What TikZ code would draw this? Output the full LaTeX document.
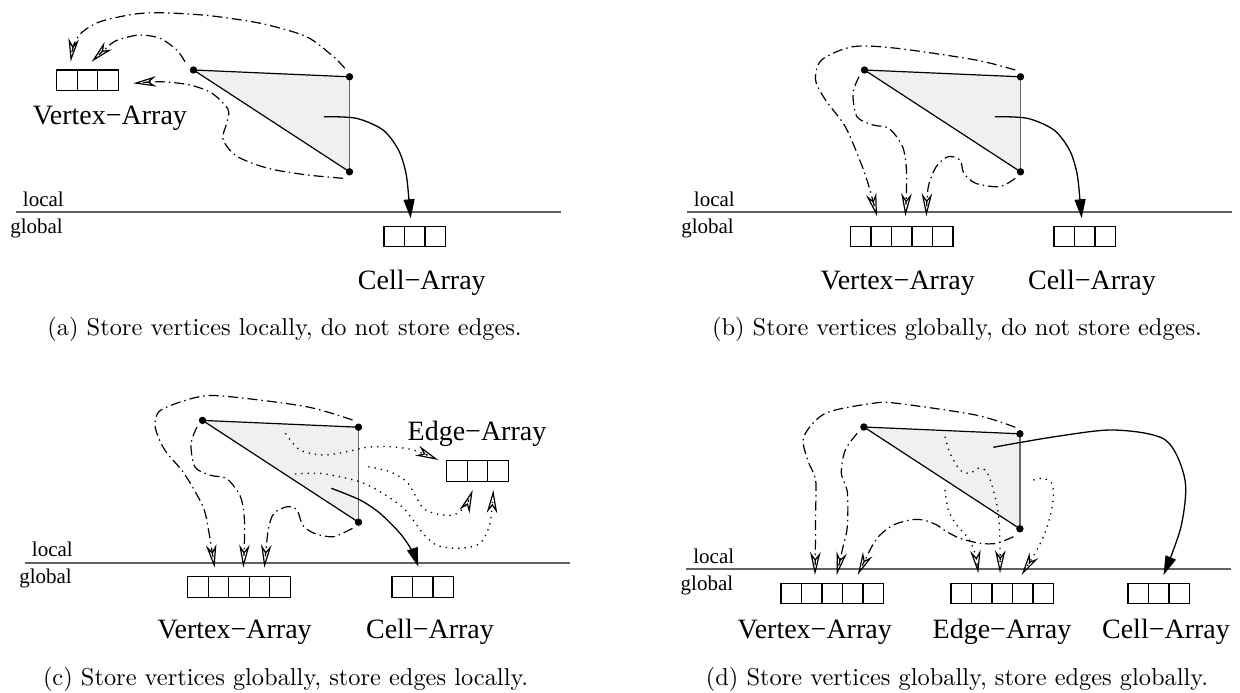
\documentclass[tikz,border=0pt]{standalone}
\usepackage{fontspec}
\newfontfamily\figfont{Liberation Serif}
\usetikzlibrary{arrows.meta}

\newcommand{\meshtri}{%
  \coordinate (vA) at (177.5,-142.3);
  \coordinate (vB) at (333.5,-135.5);
  \coordinate (vC) at (333.5,-40.5);
  \fill[black!6] (vA) -- (vB) -- (vC) -- cycle;
  \draw[line width=1.2pt] (vB) -- (vA) -- (vC);
  \draw[black!60, line width=1.6pt] (vB) -- (vC);
  \foreach \v in {vA,vB,vC} \fill (\v) circle (3.7pt);
}
\newcommand{\splitline}{%
  \draw[black!62, line width=1.8pt] (0,0) coordinate (lineL) -- (545,0) coordinate (lineR);
  \node[lvl, anchor=base east] (loc) at (48,-6) {local};
  \node[lvl, anchor=base east] (glob) at (47,21) {global};
}
\newcommand{\cellrow}[4]{%
  \foreach \i in {1,...,#3}
    \draw[cellbox] ({#1+(\i-1)*20.5},#2) rectangle +(20.5,20.5);
  \coordinate (#4) at ({#1+#3*10.25},#2);
}

\begin{document}
\begin{tikzpicture}[x=1pt, y=-1pt,
    lbl/.style={font=\figfont\fontsize{28}{30}\selectfont, inner sep=0pt, anchor=base},
    lvl/.style={font=\figfont\fontsize{21}{24}\selectfont, inner sep=0pt},
    capt/.style={inner sep=0pt, anchor=base},
    cellbox/.style={line width=1.3pt},
    dashdot/.style={line width=1.2pt, dash pattern=on 10pt off 4pt on 1.5pt off 4pt},
    dots/.style={line width=1.3pt, dash pattern=on 1.3pt off 5pt},
    solidline/.style={line width=1.3pt},
    openhead/.style={-{Stealth[open, length=23pt, width=10.5pt, inset=7pt, line width=1.2pt]}},
    solidhead/.style={-{Triangle[length=19pt, width=11pt]}}]
  \useasboundingbox (0,0) rectangle (1240,693);

  % (a)
  \begin{scope}[shift={(16,212.3)}]
    \splitline
    \meshtri
    \cellrow{40.7}{-142.3}{3}{va}
    \cellrow{368}{14}{3}{ca}
    \node[lbl, anchor=base west] (vlaba) at (16.6,-87.7) {Vertex−Array};
    \node[lbl] (claba) at (405.8,77) {Cell−Array};
    \draw[dashdot, openhead] plot[smooth] coordinates {(328.8,-144) (317,-156) (290.5,-175.6) (249,-188) (214,-194) (184,-197.5) (144,-199.6) (117,-198) (84,-190.6) (66,-180) (58,-168) (54.7,-150.6)};
    \draw[dashdot, openhead] plot[smooth] coordinates {(169,-150.6) (160.7,-162.3) (144,-174) (124,-177.3) (107.3,-174) (95.7,-169) (75.7,-150.6)};
    \draw[dashdot, openhead] plot[smooth] coordinates {(327,-34) (290,-37.5) (252,-44) (221,-56) (207,-73) (211,-90) (212,-103) (196,-119) (174,-127.3) (146,-130.5) (117.3,-129)};
    \draw[solidline, solidhead] plot[smooth] coordinates {(307.8,-95.6) (340.3,-94) (367,-82.3) (382.5,-62.3) (390,-39) (393,-12.3) (394.7,6)};
  \end{scope}

  % (b)
  \begin{scope}[shift={(687,212.3)}]
    \splitline
    \meshtri
    \cellrow{163.4}{14}{5}{vb}
    \cellrow{367}{14}{3}{cb}
    \node[lbl] (vlabb) at (210.7,77) {Vertex−Array};
    \node[lbl] (clabb) at (405,77) {Cell−Array};
    \draw[dashdot, openhead] plot[smooth] coordinates {(328.3,-142.3) (288.7,-152.3) (209.7,-164) (166,-165.6) (134.6,-152.3) (128.6,-132.3) (138.5,-112.3) (158.3,-85.6) (174,-49) (182,-25.6) (190,4)};
    \draw[dashdot, openhead] plot[smooth] coordinates {(172,-135.6) (166,-119) (170,-95.6) (186,-87.3) (201.8,-84) (215.6,-65.6) (219.6,-39) (218.4,4)};
    \draw[dashdot, openhead] plot[smooth] coordinates {(328.3,-34) (312.4,-25.6) (288.7,-29) (276.9,-39) (273,-52.3) (261,-55.6) (249.2,-45.6) (241.3,-25.6) (239.3,4)};
    \draw[solidline, solidhead] plot[smooth] coordinates {(307.8,-95.6) (340.3,-94) (367,-82.3) (382.5,-62.3) (390,-39) (393,-12.3) (394.7,6)};
  \end{scope}

  % (c)
  \begin{scope}[shift={(25,562.7)}]
    \splitline
    \meshtri
    \cellrow{162.7}{14}{5}{vc}
    \cellrow{367}{14}{3}{cc}
    \cellrow{421.7}{-102}{3}{ec}
    \node[lbl] (vlabc) at (209.6,75.3) {Vertex−Array};
    \node[lbl] (clabc) at (405,75.3) {Cell−Array};
    \node[lbl] (elabc) at (452,-122.7) {Edge−Array};
    \draw[dashdot, openhead] plot[smooth] coordinates {(327.5,-142.7) (281.5,-156) (204.9,-166) (174.2,-166) (136,-152.7) (130.2,-136) (139.8,-112.7) (159,-89.4) (178,-56) (184,-30) (189.6,5)};
    \draw[dashdot, openhead] plot[smooth] coordinates {(172,-135.6) (166,-119) (170,-95.6) (186,-87.3) (201.8,-84) (215.6,-65.6) (219.6,-39) (218.3,5)};
    \draw[dashdot, openhead] plot[smooth] coordinates {(327.5,-34.4) (308.3,-26) (289.2,-29.4) (277.7,-37.7) (272,-52.7) (262.4,-56) (249,-49.4) (243.2,-32.7) (239.4,5)};
    \draw[dots, openhead] plot[smooth] coordinates {(260.4,-129.4) (275,-112.7) (298.3,-107.7) (321.7,-111) (341.7,-115.4) (365,-116) (388.3,-112.7) (413.3,-102.7)};
    \draw[dots, openhead] plot[smooth] coordinates {(270,-88.7) (295,-89.4) (321.7,-84.4) (340,-79) (360,-68) (378,-55) (390,-40) (400,-27) (413,-17) (435,-14.4) (455,-19.4) (465,-39.4) (468.3,-72.7)};
    \draw[dots, openhead] plot[smooth] coordinates {(343.3,-96) (365,-91) (381.7,-81) (390,-67.7) (398.3,-54.4) (411.7,-48.7) (428.3,-47.7) (440,-56) (447.7,-72.7)};
    \draw[solidline, solidhead] plot[smooth] coordinates {(306.4,-74.4) (335,-62.7) (355,-49.4) (375,-29.4) (387,-12) (393.3,4)};
  \end{scope}

  % (d)
  \begin{scope}[shift={(686.4,569.3)}]
    \splitline
    \meshtri
    \cellrow{94.6}{14}{5}{vd}
    \cellrow{264.6}{14}{5}{ed}
    \cellrow{441.6}{14}{3}{cd}
    \node[lbl] (vlabd) at (128.3,68.7) {Vertex−Array};
    \node[lbl] (elabd) at (315.6,68.7) {Edge−Array};
    \node[lbl] (clabd) at (479.6,68.7) {Cell−Array};
    \draw[dashdot, openhead] plot[smooth] coordinates {(328.9,-142) (289.3,-154.3) (210.3,-166) (186.6,-166) (139,-156) (117.4,-132.6) (121.3,-109.3) (129.2,-89.3) (129.2,-56) (129,-25) (128.6,5.7)};
    \draw[dashdot, openhead] plot[smooth] coordinates {(170.8,-136) (158.9,-119.3) (154.9,-96) (160.9,-77.6) (160.9,-42.6) (156,-20) (150.3,5.7)};
    \draw[dashdot, openhead] plot[smooth] coordinates {(327,-32.6) (310.3,-26) (293.6,-26) (273.6,-31) (260.3,-37.6) (250.3,-44.3) (237,-49.3) (223.6,-49.3) (207,-44.3) (193.6,-34.3) (185,-22) (171.3,5.7)};
    \draw[dots, openhead] plot[smooth] coordinates {(258.6,-132.6) (263.6,-116) (273.6,-99.3) (283.6,-96) (291.9,-101) (300.3,-97.6) (306.9,-79.3) (311.9,-56) (313.6,-26) (313.6,4)};
    \draw[dots, openhead] plot[smooth] coordinates {(258.6,-79.3) (261.9,-59.3) (270.3,-44.3) (281.9,-31) (288.6,-16) (291.9,4)};
    \draw[dots, openhead] plot[smooth] coordinates {(347,-89.3) (357,-91) (365.3,-86) (367,-72.6) (363.6,-52.6) (357,-32.6) (348.6,-16) (335.3,5.7)};
    \draw[solidline, solidhead] plot[smooth] coordinates {(306.9,-122) (368.4,-132.6) (427.6,-139.3) (479,-129.3) (498.6,-89.3) (494.6,-42.6) (477.1,5.7)};
  \end{scope}

  \node[capt] (capa) at (284.6,335) {\scalebox{2.44}{(a) Store vertices locally, do not store edges.}};
  \node[capt] (capb) at (957,335) {\scalebox{2.44}{(b) Store vertices globally, do not store edges.}};
  \node[capt] (capc) at (285.6,685) {\scalebox{2.44}{(c) Store vertices globally, store edges locally.}};
  \node[capt] (capd) at (957,685) {\scalebox{2.44}{(d) Store vertices globally, store edges globally.}};
\end{tikzpicture}
\end{document}
